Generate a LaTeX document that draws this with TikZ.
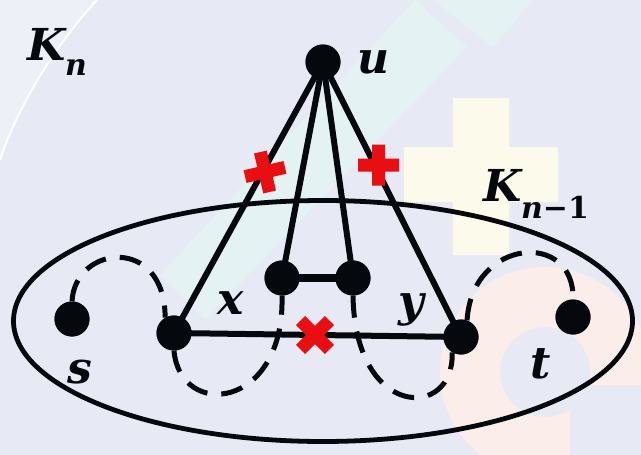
\documentclass[tikz,border=0pt]{standalone}
\usepackage{fontspec}
\setmainfont{DejaVu Serif}
\usetikzlibrary{shapes.geometric}
\definecolor{bgc}{RGB}{231,234,244}
\definecolor{mintc}{RGB}{229,242,243}
\definecolor{yelc}{RGB}{252,250,234}
\definecolor{peachc}{RGB}{251,238,234}
\definecolor{lightc}{RGB}{238,240,248}
\definecolor{linec}{RGB}{5,8,12}
\definecolor{redc}{RGB}{232,14,18}
\begin{document}
\begin{tikzpicture}[x=1pt,y=-1pt,
  vtx/.style={circle, fill=linec, minimum size=35pt, inner sep=0pt},
  edg/.style={line width=6pt, draw=linec},
  dsh/.style={line width=5pt, draw=linec, dash pattern=on 22pt off 14pt},
  lbl/.style={font=\fontsize{44}{48}\selectfont\bfseries\itshape, inner sep=0pt, text=linec},
  sublbl/.style={font=\fontsize{30}{34}\selectfont\bfseries\itshape, inner sep=0pt, text=linec},
  redmark/.style={fill=redc}]
% background and faint watermark shapes
\fill[bgc] (0,0) rectangle (641,455);
\useasboundingbox (0,0) rectangle (641,455);
\begin{scope}
  \clip (0,0) rectangle (641,455);
  \fill[lightc] (0,0) -- (97,0) .. controls (60,40) and (20,100) .. (0,160) -- cycle;
  \fill[mintc] (415,0) -- (467,47) -- (205,320) -- (160,275) -- cycle;
  \fill[mintc] (433,0) -- (533,0) -- (493,47) -- cycle;
  \fill[yelc] (453,98) rectangle (509,255) (404,147) rectangle (558,202);
  \begin{scope}
    \clip (0,0) -- (641,0) -- (641,385) -- (570,385) -- (570,455) -- (0,455) -- cycle;
    \fill[peachc, even odd rule] (545,372) circle[radius=105pt] (545,372) circle[radius=45pt];
  \end{scope}
\end{scope}
\draw[white, line width=2pt] (97,0) .. controls (60,40) and (20,100) .. (0,160);
% outer set K_{n-1}
\node[ellipse, draw=linec, line width=4.8pt, minimum width=619pt, minimum height=241pt, inner sep=0pt] (kset) at (323,321) {};
% vertices
\node[vtx] (u) at (323,62) {};
\node[vtx] (s) at (72,319) {};
\node[vtx] (xa) at (174,333) {};
\node[vtx] (p) at (282,278) {};
\node[vtx] (q) at (353,278) {};
\node[vtx] (yb) at (461,337) {};
\node[vtx] (t) at (573,317) {};
% dashed paths
\draw[dsh] (s.north) .. controls (75,245) and (165,235) .. (xa.120);
\draw[dsh] (xa.south) .. controls (180,420) and (285,410) .. (p.south);
\draw[dsh] (q.south) .. controls (355,420) and (455,420) .. (yb.240);
\draw[dsh] (yb.70) .. controls (472,238) and (575,230) .. (t.north);
% edges
\draw[edg] (u.center) -- (xa.center);
\draw[edg] (u.center) -- (p.center);
\draw[edg] (u.center) -- (q.center);
\draw[edg] (u.center) -- (yb.center);
\draw[edg] (xa.center) -- (yb.center);
\draw[edg, line width=7.5pt] (p.center) -- (q.center);
% redraw vertices on top of the edges
\foreach \v in {u,s,xa,p,q,yb,t}
  \fill[linec] (\v.center) circle[radius=17.5pt];
% red marks
\fill[redmark, shift={(265,172)}, rotate=13] (-20.5,-6.5) rectangle (20.5,6.5) (-6.5,-20.5) rectangle (6.5,20.5);
\fill[redmark, shift={(378.5,165)}] (-20.5,-6.5) rectangle (20.5,6.5) (-6.5,-20.5) rectangle (6.5,20.5);
\fill[redmark, shift={(315,335)}, rotate=45] (-20.5,-6.5) rectangle (20.5,6.5) (-6.5,-20.5) rectangle (6.5,20.5);
% labels
\node[lbl] (lK) at (47,44) {K};
\node[sublbl] (ln) at (76,68) {n};
\node[lbl] (lu) at (373,62) {u};
\node[lbl] (lK2) at (503,185) {K};
\node[sublbl] (ln2) at (555,207) {n\textup{−1}};
\node[lbl] (lx) at (231,303) {x};
\node[lbl] (ls) at (80,372) {s};
\node[lbl] (ly) at (411,310) {y};
\node[lbl] (lt) at (541,364) {t};
\end{tikzpicture}
\end{document}
